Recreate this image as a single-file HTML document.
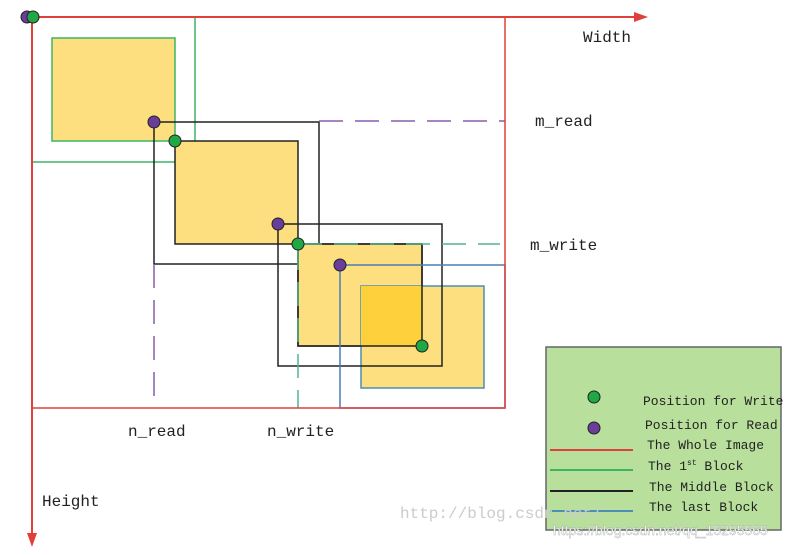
<!DOCTYPE html>
<html><head><meta charset="utf-8"><style>
body{margin:0;background:#fff}
svg text{font-family:"Liberation Mono","DejaVu Sans Mono",monospace;font-size:16px;fill:#222}
</style></head><body>
<svg width="801" height="550" viewBox="0 0 801 550" xmlns="http://www.w3.org/2000/svg">
<rect width="801" height="550" fill="#fff"/>
<!-- 1st block -->
<rect x="32" y="17" width="163" height="145" fill="none" stroke="#3cb562" stroke-width="1.5"/>
<rect x="52" y="38" width="123" height="103" fill="#fddf7f" stroke="#3cb562" stroke-width="1.5"/>
<!-- middle 1 -->
<rect x="175" y="141" width="123" height="103" fill="#fddf7f" stroke="#222" stroke-width="1.5"/>
<rect x="154" y="122" width="165" height="142" fill="none" stroke="#222" stroke-width="1.5"/>
<!-- middle 2 -->
<rect x="298" y="244" width="124" height="102" fill="#fddf7f" stroke="#222" stroke-width="1.5"/>
<!-- last -->
<rect x="361" y="286" width="123" height="102" fill="#fddf7f" stroke="#4a8fb5" stroke-width="1.5"/>
<rect x="361" y="286" width="61" height="60" fill="#fdd03c"/>
<rect x="278" y="224" width="164" height="142" fill="none" stroke="#222" stroke-width="1.5"/>
<rect x="298" y="244" width="124" height="102" fill="none" stroke="#222" stroke-width="1.5"/>
<rect x="340" y="265" width="165" height="143" fill="none" stroke="#4a7fb5" stroke-width="1.5"/>
<!-- dashed -->
<path d="M319 121H505M154 264V408" stroke="#8a5cb0" stroke-width="1.5" stroke-dasharray="24,12" fill="none"/>
<path d="M298 244H500M298 246V408" stroke="#4fb58a" stroke-width="1.5" stroke-dasharray="24,12" fill="none"/>
<!-- red -->
<path d="M505 17V408H32" stroke="#e0403c" stroke-width="1.5" fill="none"/>
<path d="M32 17H636M32 17V536" stroke="#e0403c" stroke-width="2" fill="none"/>
<polygon points="648,17 634,12 634,22" fill="#e0403c"/>
<polygon points="32,547 27,533 37,533" fill="#e0403c"/>
<!-- dots -->
<g stroke="#222" stroke-width="1">
<circle cx="27" cy="17" r="6" fill="#6a3d9a"/><circle cx="33" cy="17" r="6" fill="#20a845"/>
<circle cx="154" cy="122" r="6" fill="#6a3d9a"/><circle cx="175" cy="141" r="6" fill="#20a845"/>
<circle cx="278" cy="224" r="6" fill="#6a3d9a"/><circle cx="298" cy="244" r="6" fill="#20a845"/>
<circle cx="340" cy="265" r="6" fill="#6a3d9a"/><circle cx="422" cy="346" r="6" fill="#20a845"/>
</g>
<text x="583" y="42">Width</text>
<text x="535" y="126">m_read</text>
<text x="530" y="250">m_write</text>
<text x="128" y="436">n_read</text>
<text x="267" y="436">n_write</text>
<text x="42" y="506">Height</text>
<!-- legend -->
<rect x="546" y="347" width="235" height="183" fill="#b8e09c" stroke="#666" stroke-width="1.5"/>
<g stroke="#222" stroke-width="1">
<circle cx="594" cy="397" r="6" fill="#20a845"/><circle cx="594" cy="428" r="6" fill="#6a3d9a"/>
</g>
<g stroke-width="2">
<line x1="550" y1="450" x2="633" y2="450" stroke="#e0403c"/>
<line x1="550" y1="470" x2="633" y2="470" stroke="#3cb562"/>
<line x1="550" y1="491" x2="633" y2="491" stroke="#222"/>
<line x1="550" y1="511" x2="633" y2="511" stroke="#4a8fb5"/>
</g>
<g style="font-size:13px">
<text x="643" y="405" style="font-size:13px">Position for Write</text>
<text x="645" y="429" style="font-size:13px">Position for Read</text>
<text x="647" y="449" style="font-size:13px">The Whole Image</text>
<text x="648" y="470" style="font-size:13px">The 1<tspan dy="-5" style="font-size:8px">st</tspan><tspan dy="5"> Block</tspan></text>
<text x="649" y="491" style="font-size:13px">The Middle Block</text>
<text x="649" y="511" style="font-size:13px">The last Block</text>
</g>
<text x="400" y="518" style="font-size:16px;fill:#ccc">http://blog.csdn.net/</text>
<text x="553" y="535" style="font-family:'Liberation Sans',sans-serif;font-size:14px;fill:#fff;stroke:#aaa;stroke-width:0.4">https://blog.csdn.net/qq_15295565</text>
</svg>
</body></html>
